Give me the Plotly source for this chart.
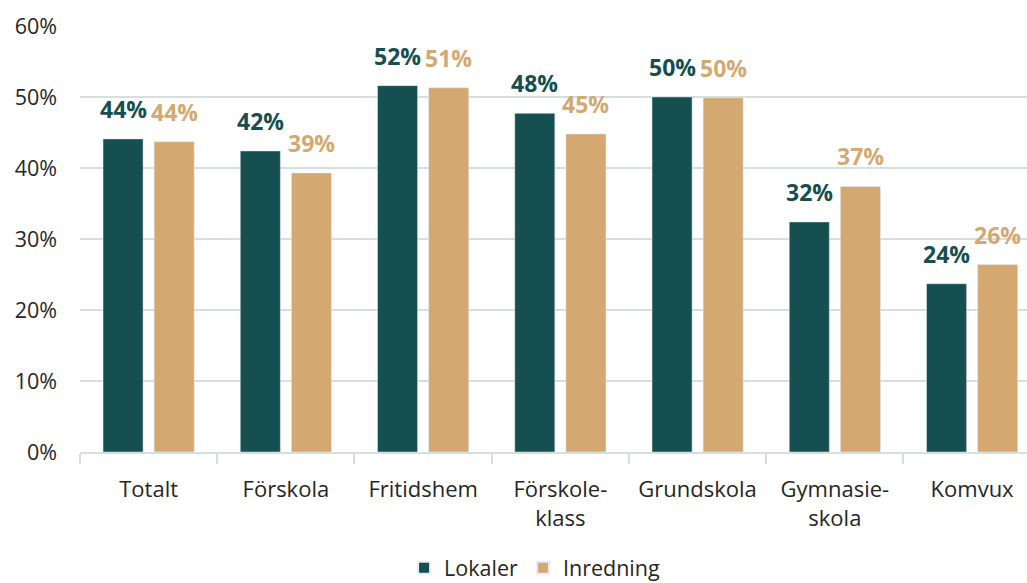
import plotly.graph_objects as go

categories = ["Totalt", "Förskola", "Fritidshem", "Förskole-<br>klass", "Grundskola", "Gymnasie-<br>skola", "Komvux"]
lokaler = [44.1, 42.4, 51.6, 47.7, 50.0, 32.4, 23.7]
inredning = [43.7, 39.3, 51.3, 44.8, 49.9, 37.4, 26.4]
y_ticks = [0, 10, 20, 30, 40, 50, 60]
y_tick_labels = ["0%", "10%", "20%", "30%", "40%", "50%", "60%"]

TEAL = "#154F4F"
TAN = "#D3A971"
TEXT = "#262626"
GRID = "#D6DFDF"
FONT = "Open Sans"

fig = go.Figure()
fig.add_trace(go.Bar(name="Lokaler", x=categories, y=lokaler, marker_color=TEAL))
fig.add_trace(go.Bar(name="Inredning", x=categories, y=inredning, marker_color=TAN))

annotations = []
for series, color, shift in [(lokaler, TEAL, -25.5), (inredning, TAN, 25.5)]:
    for c, v in zip(categories, series):
        annotations.append(dict(
            x=c, y=v, xref="x", yref="y", text=f"{round(v):d}%", showarrow=False,
            xanchor="center", yanchor="bottom", xshift=shift, yshift=12,
            font=dict(family=FONT, size=23, color=color, weight="bold"),
        ))

fig.update_layout(
    width=1027, height=583,
    margin=dict(l=80, r=0, t=26, b=131, autoexpand=False),
    paper_bgcolor="white", plot_bgcolor="white",
    barmode="group", bargap=0.255, bargroupgap=0.216,
    font=dict(family=FONT, size=22, color=TEXT),
    showlegend=True,
    legend=dict(orientation="h", x=0.48, xanchor="center", y=-0.272, yanchor="middle",
                font=dict(size=21.5, color=TEXT), itemsizing="constant", traceorder="normal"),
    annotations=annotations,
)
fig.update_xaxes(
    range=[-0.5, 6.40], showgrid=False, showline=True, linecolor=GRID, linewidth=2,
    ticks="outside", tickson="boundaries", ticklen=10, tickcolor=GRID, tickwidth=2,
    tickfont=dict(size=22, color=TEXT), ticklabelstandoff=17, automargin=False,
)
fig.update_yaxes(
    range=[0, 60], tickvals=y_ticks, ticktext=y_tick_labels, showgrid=True, gridcolor=GRID,
    gridwidth=1.5, zeroline=False, showline=False, ticks="", ticklabelstandoff=22,
    tickfont=dict(size=21.5, color=TEXT), automargin=False,
)

fig.write_html(
    "out.html",
    config={"displayModeBar": False},
    post_script="document.body.style.margin='0';document.body.style.overflow='hidden';",
)
